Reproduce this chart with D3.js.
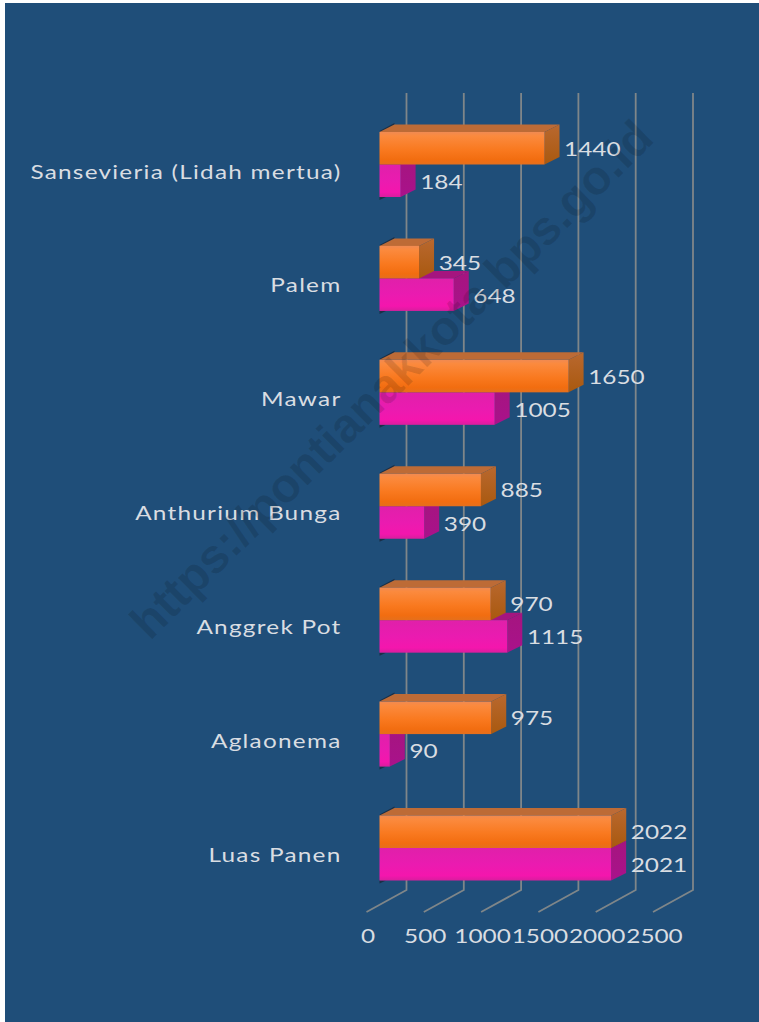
<!DOCTYPE html>
<html lang="en">
  <head>
    <meta charset="UTF-8" />
    <title>Luas Panen</title>
    <script src="https://d3js.org/d3.v7.min.js"></script>
    <style>
      body { margin: 0; background: #fff; }
      svg { display: block; }
      text { font-family: Lato, "Open Sans", sans-serif; fill: #d9dde2; }
    </style>
  </head>
  <body>
    <script>
      const categories = ["Sansevieria (Lidah mertua)", "Palem", "Mawar", "Anthurium Bunga", "Anggrek Pot", "Aglaonema", "Luas Panen"];
      const seriesNames = ["2022", "2021"];
      const values2022 = [1440, 345, 1650, 885, 970, 975, 2022];
      const values2021 = [184, 648, 1005, 390, 1115, 90, 2021];
      const axisTicks = [0, 500, 1000, 1500, 2000, 2500];

      const width = 759, height = 1022;
      const depthX = 15, depthY = 7.5; // bar depth
      const wallX = 27; // back wall offset for gridlines
      const stretch = 1.31; // the original text is pulled wide

      const svg = d3.select("body").append("svg").attr("width", width).attr("height", height);

      svg.append("rect").attr("x", 5).attr("y", 3).attr("width", 754).attr("height", 1019).attr("fill", "#1f4e79");

      const defs = svg.append("defs");
      function gradient(id, stops) {
        const g = defs.append("linearGradient").attr("id", id).attr("x1", 0).attr("y1", 0).attr("x2", 0).attr("y2", 1);
        stops.forEach(s => g.append("stop").attr("offset", s[0]).attr("stop-color", s[1]));
      }
      gradient("front2022", [[0, "#f08a52"], [0.12, "#fb8a3e"], [0.55, "#f9791f"], [0.85, "#f26d10"], [1, "#e56f1c"]]);
      gradient("front2021", [[0, "#e020aa"], [0.5, "#ea1bb0"], [0.85, "#f416ad"], [1, "#d81e9e"]]);
      gradient("side2022", [[0, "#b9682f"], [1, "#a9590f"]]);
      gradient("side2021", [[0, "#a5157f"], [1, "#a9128b"]]);

      const x = d3.scaleLinear().domain([0, 2500]).range([379.5, 666]);
      const y = d3.scaleBand().domain(categories).range([132, 880.5]).paddingInner(0.4293);
      const ySeries = d3.scaleBand().domain(seriesNames).range([0, y.bandwidth()]);

      // gridlines and floor lines
      const grid = svg.append("g");
      axisTicks.forEach(t => {
        const gx = x(t) + wallX;
        grid.append("path")
          .attr("d", d3.line()([[gx, 93], [gx, 890], [gx - 40, 912]]))
          .attr("fill", "none")
          .attr("stroke", "#7f8689")
          .attr("stroke-width", 1.8);
      });

      // bottom axis, labels only
      const axis = svg.append("g")
        .call(d3.axisBottom(x).tickValues(axisTicks).tickSize(0).tickFormat(d3.format("d")));
      axis.select(".domain").remove();
      axis.attr("transform", "translate(-12,942.5)");
      axis.selectAll("text")
        .attr("y", 0).attr("dy", 0)
        .attr("transform", `scale(${stretch},1)`)
        .style("font-size", "18.6px");

      function wideText(tx, ty, str, anchor, spacing) {
        return svg.append("text")
          .attr("transform", `translate(${tx},${ty}) scale(${stretch},1)`)
          .attr("text-anchor", anchor)
          .style("font-size", "18.6px")
          .style("letter-spacing", (spacing || 0) + "px")
          .text(str);
      }

      function drawBar(cat, name, value) {
        const x0 = x(0), x1 = x(value);
        const y0 = y(cat) + ySeries(name), h = ySeries.bandwidth();
        const dark = name === "2022";
        const bar = svg.append("g");
        bar.append("polygon")
          .attr("points", [[x0, y0], [x0 + depthX, y0 - depthY], [x1 + depthX, y0 - depthY], [x1, y0]].join(" "))
          .attr("fill", dark ? "#bd6b36" : "#a5157f");
        bar.append("polygon")
          .attr("points", [[x1, y0], [x1 + depthX, y0 - depthY], [x1 + depthX, y0 + h - depthY], [x1, y0 + h]].join(" "))
          .attr("fill", `url(#side${name})`);
        bar.append("rect")
          .attr("x", x0).attr("y", y0)
          .attr("width", x1 - x0).attr("height", h)
          .attr("fill", `url(#front${name})`);
        return { x1, y0, h };
      }

      categories.forEach((cat, i) => {
        // dark slivers the bars cast on the wall
        const top = y(cat), bottom = top + y.bandwidth();
        svg.append("polygon")
          .attr("points", [[379.5, top - 1], [394.5, top - 9], [394.5, top - 7.5], [382, top]].join(" "))
          .attr("fill", "#1a2f47");
        svg.append("polygon")
          .attr("points", [[379.5, bottom], [386, bottom], [379.5, bottom + 3]].join(" "))
          .attr("fill", "#1a2f47");

        // 2021 first so the 2022 block sits over it
        const b21 = drawBar(cat, "2021", values2021[i]);
        const b22 = drawBar(cat, "2022", values2022[i]);

        wideText(b22.x1 + depthX + 4.6, b22.y0 + b22.h / 2 + 7.5, values2022[i], "start");
        wideText(b21.x1 + depthX + 4.6, b21.y0 + b21.h / 2 + 8, values2021[i], "start");
        wideText(341.5, top + y.bandwidth() / 2 + 14, cat, "end", 0.95);
      });

      // watermark across the whole chart
      svg.append("text")
        .attr("transform", "translate(394,382) rotate(-44.7)")
        .attr("text-anchor", "middle")
        .attr("dominant-baseline", "middle")
        .style("font-family", "'Liberation Sans', Arial, sans-serif")
        .style("font-weight", "bold")
        .style("font-size", "48px")
        .style("fill", "rgba(0,0,0,0.12)")
        .text("https://pontianakkota.bps.go.id");
    </script>
  </body>
</html>
